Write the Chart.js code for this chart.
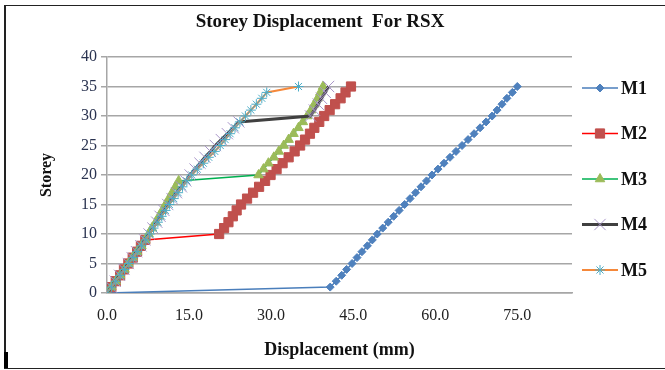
<!DOCTYPE html>
<html>
<head>
<meta charset="utf-8">
<script src="https://cdn.jsdelivr.net/npm/chart.js@4.4.1/dist/chart.umd.min.js"></script>
<style>
  html, body { margin: 0; padding: 0; background: #fff; overflow: hidden; }
  #wrap { position: relative; width: 665px; height: 370px; }
  #frame { position: absolute; left: 4px; top: 5px; width: 680px; height: 362px; border: 1px solid #222; border-left-width: 2px; pointer-events: none; }
  #mark { position: absolute; left: 4px; top: 352px; width: 4px; height: 16px; background: #000; }
</style>
</head>
<body>
<div id="wrap">
  <canvas id="storeyChart" width="665" height="370"></canvas>
  <div id="frame"></div>
  <div id="mark"></div>
</div>
<script>
const storeys = [0, 1, 2, 3, 4, 5, 6, 7, 8, 9, 10, 11, 12, 13, 14, 15, 16, 17,
    18, 19, 20, 21, 22, 23, 24, 25, 26, 27, 28, 29, 30, 31, 32, 33, 34, 35];
const m1 = [0, 40.8, 41.9, 42.9, 43.8, 44.8, 45.7, 46.6, 47.6, 48.5, 49.4, 50.4, 51.4, 52.4, 53.4, 54.4, 55.4, 56.4,
    57.4, 58.4, 59.4, 60.5, 61.6, 62.7, 63.8, 64.9, 66.0, 67.1, 68.2, 69.3, 70.4, 71.3, 72.2, 73.1, 74.1, 75.0];
const m2 = [0, 0.8, 1.6, 2.4, 3.1, 3.9, 4.7, 5.5, 6.2, 7.0, 20.5, 21.4, 22.2, 23.0, 23.7, 24.5, 25.6, 26.7,
    27.8, 28.9, 29.9, 31.0, 32.1, 33.2, 34.3, 35.3, 36.2, 37.1, 37.9, 38.8, 39.7, 40.7, 41.7, 42.7, 43.6, 44.6];
const m3 = [0, 0.8, 1.6, 2.4, 3.2, 3.9, 4.7, 5.5, 6.3, 7.0, 7.6, 8.2, 8.9, 9.5, 10.1, 10.7, 11.3, 11.9,
    12.5, 13.1, 27.7, 28.6, 29.5, 30.5, 31.4, 32.3, 33.2, 34.1, 35.0, 35.8, 36.6, 37.3, 37.9, 38.5, 39.0, 39.5];
const m4 = [0, 0.8, 1.5, 2.3, 3.1, 3.9, 4.6, 5.4, 6.2, 6.9, 7.7, 8.4, 9.1, 9.7, 10.4, 11.1, 11.9, 12.7,
    13.6, 14.4, 15.2, 16.1, 17.0, 17.9, 18.9, 19.8, 20.9, 22.0, 23.1, 24.1, 37.2, 37.9, 38.6, 39.2, 39.9, 40.5];
const m5 = [0, 0.8, 1.6, 2.4, 3.2, 4.0, 4.8, 5.5, 6.3, 7.1, 7.8, 8.5, 9.3, 10.0, 10.7, 11.4, 12.2, 13.0,
    13.8, 14.6, 15.5, 16.5, 17.6, 18.6, 19.7, 20.7, 21.6, 22.5, 23.4, 24.3, 25.3, 26.3, 27.3, 28.3, 29.2, 35.0];
const seriesNames = ['M1', 'M2', 'M3', 'M4', 'M5'];

const serif = "'Liberation Serif', 'Times New Roman', serif";

function toPoints(values) {
    return values.map((v, i) => ({ x: v, y: storeys[i] }));
}

// chart title, drawn a bit left of centre like the original
const titlePlugin = {
    id: 'titlePlugin',
    afterDraw(chart) {
        const ctx = chart.ctx;
        ctx.save();
        ctx.font = 'bold 19px ' + serif;
        ctx.fillStyle = '#111';
        ctx.textAlign = 'center';
        ctx.textBaseline = 'middle';
        ctx.fillText('Storey Displacement  For RSX', 320, 22);
        ctx.restore();
    }
};

// legend on the right: line + marker + bold name
const sideLegend = {
    id: 'sideLegend',
    afterDraw(chart) {
        const ctx = chart.ctx;
        chart.data.datasets.forEach((ds, i) => {
            const y = 88 + i * 45.5;
            ctx.save();
            ctx.strokeStyle = ds.borderColor;
            ctx.lineWidth = ds.borderWidth;
            ctx.beginPath();
            ctx.moveTo(582, y);
            ctx.lineTo(618, y);
            ctx.stroke();
            ctx.fillStyle = ds.pointBackgroundColor;
            ctx.strokeStyle = ds.pointBorderColor;
            ctx.lineWidth = ds.pointBorderWidth;
            Chart.helpers.drawPoint(ctx, {
                pointStyle: ds.pointStyle,
                radius: ds.pointRadius,
                borderWidth: ds.pointBorderWidth,
                rotation: 0
            }, 600, y);
            ctx.font = 'bold 18px ' + serif;
            ctx.fillStyle = '#111';
            ctx.textAlign = 'left';
            ctx.textBaseline = 'middle';
            ctx.fillText(ds.label, 621, y + 1);
            ctx.restore();
        });
    }
};

const ctx = document.getElementById('storeyChart').getContext('2d');
const storeyChart = new Chart(ctx, {
    type: 'scatter',
    data: {
        datasets: [{
            label: seriesNames[0],
            data: toPoints(m1),
            showLine: true,
            borderColor: '#4a7ebb',
            borderWidth: 1.5,
            pointStyle: 'rectRot',
            pointRadius: 4,
            pointBackgroundColor: '#4f81bd',
            pointBorderColor: '#4f81bd',
            pointBorderWidth: 1,
            order: 4
        }, {
            label: seriesNames[1],
            data: toPoints(m2),
            showLine: true,
            borderColor: '#ff0000',
            borderWidth: 1.5,
            pointStyle: 'rect',
            pointRadius: 6.5,
            pointBackgroundColor: '#c0504d',
            pointBorderColor: '#c0504d',
            pointBorderWidth: 1,
            order: 3
        }, {
            label: seriesNames[2],
            data: toPoints(m3),
            showLine: true,
            borderColor: '#00b050',
            borderWidth: 1.5,
            pointStyle: 'triangle',
            pointRadius: 5.5,
            pointBackgroundColor: '#9bbb59',
            pointBorderColor: '#9bbb59',
            pointBorderWidth: 1,
            order: 2
        }, {
            label: seriesNames[3],
            data: toPoints(m4),
            showLine: true,
            borderColor: '#404040',
            borderWidth: 3,
            pointStyle: 'crossRot',
            pointRadius: 8,
            pointBackgroundColor: '#a895c8',
            pointBorderColor: '#a895c8',
            pointBorderWidth: 1,
            order: 1
        }, {
            label: seriesNames[4],
            data: toPoints(m5),
            showLine: true,
            borderColor: '#f5883a',
            borderWidth: 2,
            pointStyle: 'star',
            pointRadius: 5,
            pointBackgroundColor: '#4bacc6',
            pointBorderColor: '#4bacc6',
            pointBorderWidth: 1,
            order: 0
        }]
    },
    options: {
        responsive: false,
        animation: false,
        layout: {
            padding: { top: 57, right: 93, left: 0, bottom: 0 }
        },
        plugins: {
            legend: { display: false },
            tooltip: { enabled: false }
        },
        elements: {
            line: { tension: 0 }
        },
        scales: {
            x: {
                type: 'linear',
                min: 0,
                max: 85,
                afterFit: s => { s.height = 77; },
                ticks: {
                    stepSize: 15,
                    includeBounds: false,
                    padding: 5,
                    color: '#222',
                    font: { family: serif, size: 16 },
                    callback: v => v.toFixed(1)
                },
                grid: { display: false },
                border: { color: '#a6a6a6', width: 1.5 },
                title: {
                    display: true,
                    text: 'Displacement (mm)',
                    color: '#111',
                    font: { family: serif, size: 18, weight: 'bold' },
                    padding: { top: 0, bottom: 9 }
                }
            },
            y: {
                min: 0,
                max: 40,
                afterFit: s => { s.width = 107; },
                ticks: {
                    stepSize: 5,
                    padding: 4,
                    color: '#2a3350',
                    font: { family: serif, size: 16 }
                },
                grid: {
                    color: '#a6a6a6',
                    lineWidth: 1.5,
                    tickLength: 6
                },
                border: { color: '#a6a6a6', width: 1.5 },
                title: {
                    display: true,
                    text: 'Storey',
                    color: '#111',
                    font: { family: serif, size: 16, weight: 'bold' },
                    padding: { top: 37, bottom: 0 }
                }
            }
        }
    },
    plugins: [titlePlugin, sideLegend]
});
</script>
</body>
</html>
